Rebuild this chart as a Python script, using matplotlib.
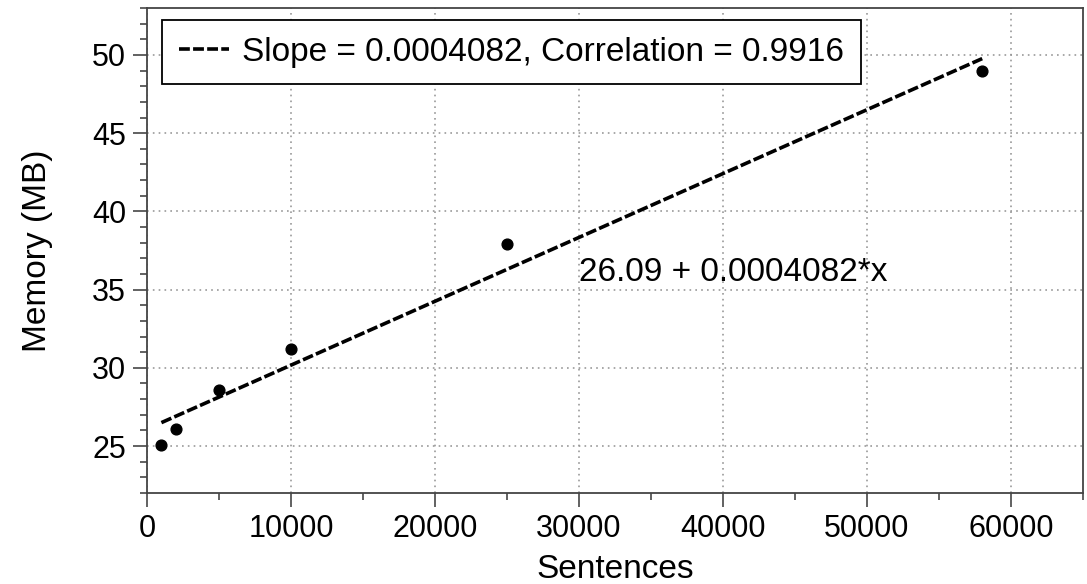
import matplotlib

matplotlib.use("Agg")
import matplotlib.pyplot as plt  # noqa: E402
from matplotlib.ticker import MultipleLocator  # noqa: E402

# data
sentences = [1000, 2000, 5000, 10000, 25000, 58000]
memory_mb = [25.1, 26.1, 28.6, 31.2, 37.9, 49.0]
intercept = 26.09
slope = 0.0004082
correlation = 0.9916
fit_x = [1000, 58000]

plt.rcParams["font.family"] = ["Liberation Sans", "DejaVu Sans"]

fig = plt.figure(figsize=(10.87, 5.84), dpi=100)
ax = fig.add_axes([147 / 1087, 1 - 493 / 584, (1083 - 147) / 1087, (493 - 8) / 584])

fit_y = [intercept + slope * x for x in fit_x]
ax.plot(fit_x, fit_y, color="black", lw=2.6, ls=(0, (3, 0.9)),
        label=f"Slope = {slope}, Correlation = {correlation}", zorder=3)
ax.scatter(sentences, memory_mb, s=60, color="black", zorder=4)
ax.text(30000, 36.1, f"{intercept} + {slope}*x", fontsize=24, va="center")

ax.set_xlim(0, 65000)
ax.set_ylim(22, 53)
ax.xaxis.set_major_locator(MultipleLocator(10000))
ax.xaxis.set_minor_locator(MultipleLocator(5000))
ax.yaxis.set_major_locator(MultipleLocator(5))
ax.yaxis.set_minor_locator(MultipleLocator(1))
ax.tick_params(which="major", direction="out", length=10, width=1.3,
               color="#555555", labelsize=22, pad=5)
ax.tick_params(which="minor", direction="out", length=5, width=1.3, color="#555555")
ax.grid(True, which="major", ls=(0, (1, 2.5)), color="#999999", lw=1.2)
for s in ax.spines.values():
    s.set_color("#444444")
    s.set_linewidth(1.3)

ax.set_xlabel("Sentences", fontsize=24, labelpad=7)
ax.set_ylabel("Memory (MB)", fontsize=24, labelpad=28)

leg = ax.legend(loc="upper left", bbox_to_anchor=(0.016, 0.975), fontsize=24,
                fancybox=False, framealpha=1, edgecolor="black",
                handlelength=1.5, handletextpad=0.4, borderpad=0.5,
                borderaxespad=0)
leg.get_frame().set_linewidth(1.3)

fig.savefig("out.png", dpi=100)
